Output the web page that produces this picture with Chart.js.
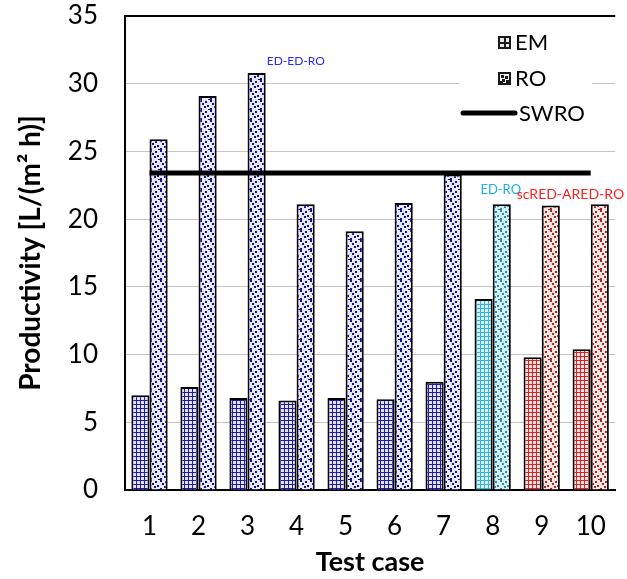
<!DOCTYPE html>
<html>
<head>
<meta charset="utf-8">
<script src="https://cdn.jsdelivr.net/npm/chart.js@4.4.0/dist/chart.umd.min.js"></script>
<style>
  html, body { margin: 0; padding: 0; background: #fff; }
  #wrap { width: 627px; height: 579px; }
</style>
</head>
<body>
<div id="wrap"><canvas id="chart"></canvas></div>
<script>
// data
const testCases = ['1', '2', '3', '4', '5', '6', '7', '8', '9', '10'];
const emValues = [7.0, 7.6, 6.8, 6.6, 6.8, 6.7, 8.0, 14.1, 9.8, 10.4];
const roValues = [25.9, 29.1, 30.8, 21.1, 19.1, 21.2, 23.3, 21.1, 21.0, 21.1];
const swroValues = [23.4, 23.4, 23.4, 23.4, 23.4, 23.4, 23.4, 23.4, 23.4, 23.4];
const caseGroup = ['blue', 'blue', 'blue', 'blue', 'blue', 'blue', 'blue', 'cyan', 'red', 'red'];
const noteTexts = ['ED-ED-RO', 'ED-RO', 'scRED-ARED-RO'];
const noteCases = [2, 7, 8];

const FONT = 'Lato, "Noto Sans", sans-serif';

// colours per group
const palette = {
  blue: { bgGrid: '#e2e2fa', line: '#1c1ca8', bgDot: '#e8e8fc', dot: '#12128a', text: '#2a2aff' },
  cyan: { bgGrid: '#d2f2f8', line: '#36b4d8', bgDot: '#cef2f6', dot: '#3a88ac', text: '#1aaee8' },
  red:  { bgGrid: '#fde0e0', line: '#d42424', bgDot: '#fde6de', dot: '#a82830', text: '#ff2020' }
};

// pattern helpers
function gridPattern(bg, line) {
  const c = document.createElement('canvas');
  c.width = 4; c.height = 4;
  const g = c.getContext('2d');
  g.fillStyle = bg; g.fillRect(0, 0, 4, 4);
  g.fillStyle = line;
  g.fillRect(0, 0, 4, 1);
  g.fillRect(0, 0, 1, 4);
  return g.createPattern(c, 'repeat');
}
function dotPattern(bg, dot) {
  const c = document.createElement('canvas');
  c.width = 10; c.height = 10;
  const g = c.getContext('2d');
  g.fillStyle = bg; g.fillRect(0, 0, 10, 10);
  g.fillStyle = dot;
  [[0, 0], [5, 1], [2, 3], [7, 5], [4, 6], [0, 8], [8, 9]].forEach(p => g.fillRect(p[0], p[1], 2, 2));
  return g.createPattern(c, 'repeat');
}

const emFills = caseGroup.map(k => gridPattern(palette[k].bgGrid, palette[k].line));
const roFills = caseGroup.map(k => dotPattern(palette[k].bgDot, palette[k].dot));

// text over some bars
const notesPlugin = {
  id: 'notes',
  afterDatasetsDraw(chart) {
    const ctx = chart.ctx;
    const bars = chart.getDatasetMeta(1).data;
    ctx.save();
    ctx.textBaseline = 'alphabetic';
    noteTexts.forEach((t, n) => {
      const i = noteCases[n];
      const b = bars[i];
      const half = b.width / 2;
      ctx.fillStyle = palette[caseGroup[i]].text;
      if (n === 0) {
        ctx.font = '12px ' + FONT;
        ctx.textAlign = 'left';
        ctx.fillText(t, b.x + half + 1, b.y - 8);
      } else if (n === 1) {
        ctx.font = '13px ' + FONT;
        ctx.textAlign = 'center';
        ctx.fillText(t, b.x - 1, b.y - 10);
      } else {
        ctx.font = '14px ' + FONT;
        ctx.textAlign = 'left';
        ctx.fillText(t, b.x - half - 25, b.y - 7);
      }
    });
    ctx.restore();
  }
};

// legend box in top right of plot
const legendPlugin = {
  id: 'boxLegend',
  afterDraw(chart) {
    const ctx = chart.ctx;
    const labels = chart.data.datasets.map(d => d.label);
    ctx.save();
    ctx.fillStyle = '#fff';
    ctx.fillRect(459, 24, 133, 104);
    ctx.font = '22px ' + FONT;
    ctx.textBaseline = 'middle';
    ctx.textAlign = 'left';

    // EM icon
    ctx.fillStyle = '#1a1a1a';
    ctx.fillRect(498, 36, 13, 13);
    ctx.fillStyle = '#e8e8e8';
    ctx.fillRect(500, 38, 4, 4); ctx.fillRect(506, 38, 3, 4);
    ctx.fillRect(500, 44, 4, 3); ctx.fillRect(506, 44, 3, 3);
    ctx.fillStyle = '#000';
    ctx.fillText(labels[0], 515, 43);

    // RO icon
    ctx.fillStyle = '#f2f2f2';
    ctx.fillRect(498, 72, 13, 13);
    ctx.strokeStyle = '#1a1a1a';
    ctx.lineWidth = 2;
    ctx.strokeRect(499, 73, 11, 11);
    ctx.fillStyle = '#1a1a1a';
    [[501, 75], [505, 76], [502, 79], [506, 80], [500, 81]].forEach(p => ctx.fillRect(p[0], p[1], 3, 3));
    ctx.fillStyle = '#000';
    ctx.fillText(labels[1], 515, 79);

    // SWRO line
    ctx.strokeStyle = '#000';
    ctx.lineWidth = 5;
    ctx.lineCap = 'round';
    ctx.beginPath();
    ctx.moveTo(463, 113);
    ctx.lineTo(515, 113);
    ctx.stroke();
    ctx.fillText(labels[2], 519, 114);
    ctx.restore();
  }
};

new Chart(document.getElementById('chart'), {
  data: {
    labels: testCases,
    datasets: [
      {
        type: 'bar', label: 'EM', data: emValues,
        backgroundColor: emFills, borderColor: '#000', borderWidth: 2,
        categoryPercentage: 0.74, barPercentage: 1.0, order: 1
      },
      {
        type: 'bar', label: 'RO', data: roValues,
        backgroundColor: roFills, borderColor: '#000', borderWidth: 2,
        categoryPercentage: 0.74, barPercentage: 1.0, order: 1
      },
      {
        type: 'line', label: 'SWRO', data: swroValues,
        borderColor: '#000', borderWidth: 5, pointRadius: 0, fill: false, order: 0
      }
    ]
  },
  options: {
    responsive: true,
    maintainAspectRatio: false,
    animation: false,
    layout: { padding: { top: 16, right: 4, left: 0, bottom: 0 } },
    plugins: { legend: { display: false }, tooltip: { enabled: false } },
    scales: {
      x: {
        afterFit(s) { s.height = 89; },
        grid: { display: false, drawTicks: false },
        border: { color: '#000', width: 2 },
        ticks: { color: '#000', font: { family: FONT, size: 26 }, padding: 21 },
        title: {
          display: true, text: 'Test case', color: '#000',
          font: { family: FONT, size: 27, weight: 'bold' },
          padding: { top: 0, bottom: 1 }
        }
      },
      y: {
        min: 0, max: 35,
        afterFit(s) { s.width = 125; s.paddingTop = 10; s.paddingBottom = 10; },
        grid: {
          drawTicks: false,
          color: c => (c.tick && c.tick.value === 35) ? '#000' : '#c4c4c4',
          lineWidth: c => (c.tick && c.tick.value === 35) ? 2 : 1
        },
        border: { color: '#000', width: 2 },
        ticks: { stepSize: 5, color: '#000', font: { family: FONT, size: 26 }, padding: 27 },
        title: {
          display: true, text: 'Productivity [L/(m\u00B2 h)]', color: '#000',
          font: { family: FONT, size: 28, weight: 'bold' },
          padding: { top: 14, bottom: 0 }
        }
      }
    }
  },
  plugins: [notesPlugin, legendPlugin]
});
</script>
</body>
</html>
